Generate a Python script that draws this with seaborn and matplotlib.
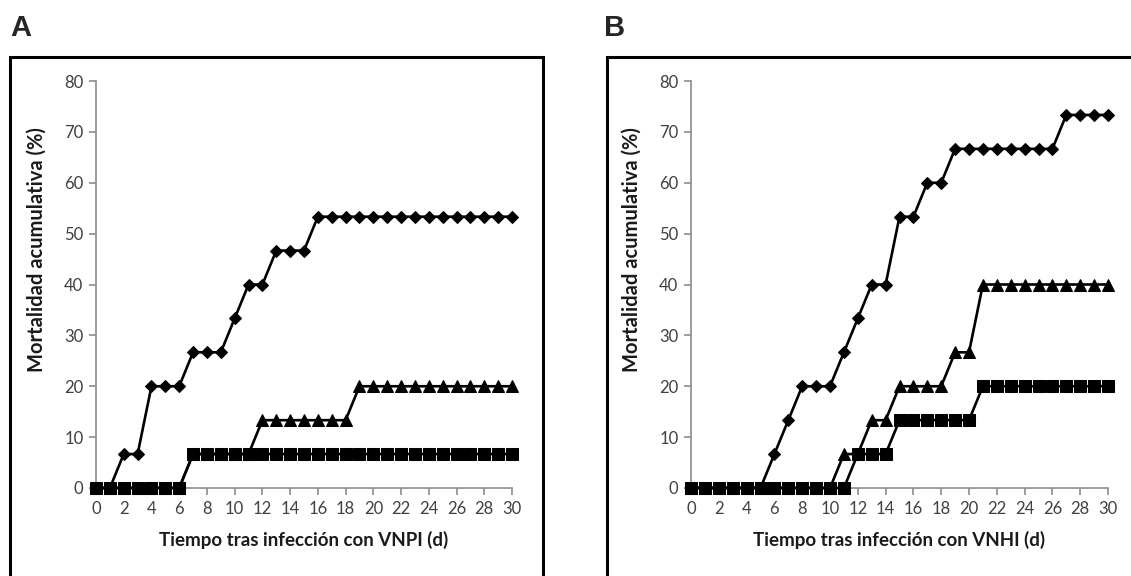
import matplotlib
matplotlib.use("Agg")
import matplotlib.pyplot as plt
from matplotlib.patches import Rectangle
import numpy as np
import pandas as pd
import seaborn as sns

# Days after infection
days = list(range(0, 31))

# Panel A: cumulative mortality (%) after VNPI infection
a_diamond = [0, 0, 6.67, 6.67, 20, 20, 20, 26.67, 26.67, 26.67, 33.33, 40, 40,
             46.67, 46.67, 46.67] + [53.33] * 15
a_triangle = [0] * 7 + [6.67] * 5 + [13.33] * 7 + [20] * 12
a_square = [0] * 7 + [6.67] * 24

# Panel B: cumulative mortality (%) after VNHI infection
b_diamond = [0] * 6 + [6.67, 13.33, 20, 20, 20, 26.67, 33.33, 40, 40, 53.33,
                       53.33, 60, 60] + [66.67] * 8 + [73.33] * 4
b_triangle = [0] * 11 + [6.67, 6.67, 13.33, 13.33, 20, 20, 20, 20, 26.67,
                         26.67] + [40] * 10
b_square = [0] * 12 + [6.67] * 3 + [13.33] * 6 + [20] * 10

x_titles = ["Tiempo tras infección con VNPI (d)",
            "Tiempo tras infección con VNHI (d)"]
y_title = "Mortalidad acumulativa (%)"
panel_letters = ["A", "B"]

sns.set_theme(style="white")
plt.rcParams["font.family"] = ["Lato", "DejaVu Sans"]

W, H = 1131, 576
fig = plt.figure(figsize=(W / 100, H / 100), dpi=100)
fig.patch.set_facecolor("white")

# axes placement in pixel terms (left, right, bottom-y, top-y)
axes_px = [(96, 512), (691, 1108)]
y0_px, y80_px = 488, 81

series_sets = [
    [(a_diamond, "D", 6.5), (a_triangle, "^", 8.0), (a_square, "s", 8.0)],
    [(b_diamond, "D", 6.5), (b_triangle, "^", 8.0), (b_square, "s", 8.0)],
]

axis_grey = "#8c8c8c"
tick_color = "#404040"

for i, ((xl, xr), series) in enumerate(zip(axes_px, series_sets)):
    ax = fig.add_axes([xl / W, (H - y0_px) / H, (xr - xl) / W, (y0_px - y80_px) / H])
    ax.set_facecolor("none")
    for vals, mk, ms in series:
        df = pd.DataFrame({"dia": days, "mort": vals})
        sns.lineplot(data=df, x="dia", y="mort", ax=ax, color="black",
                     linewidth=1.9, marker=mk, markersize=ms,
                     markeredgecolor="black", markerfacecolor="black",
                     clip_on=False, zorder=3)
    ax.set_xlim(0, 30)
    ax.set_ylim(0, 80)
    ax.set_xticks(np.arange(0, 31, 2))
    ax.set_yticks(np.arange(0, 81, 10))
    for s in ["top", "right"]:
        ax.spines[s].set_visible(False)
    for s in ["left", "bottom"]:
        ax.spines[s].set_color(axis_grey)
        ax.spines[s].set_linewidth(1.2)
    ax.tick_params(axis="both", which="major", direction="out", length=5,
                   width=1.2, color=axis_grey, labelsize=12,
                   labelcolor=tick_color, pad=4, bottom=True, left=True)
    ax.set_xlabel(x_titles[i], fontsize=13.5, fontweight="bold", color="#1a1a1a")
    ax.set_ylabel(y_title, fontsize=14.5, fontweight="bold", color="#1a1a1a")
    ax.yaxis.set_label_coords(-0.118, 0.585)
    ax.xaxis.set_label_coords(0.5, -0.105)

# panel frames
fig.patches.append(Rectangle((10 / W, -0.1), (543 - 10) / W, 0.1 + (H - 57) / H,
                             transform=fig.transFigure, fill=False,
                             edgecolor="black", linewidth=2.2, zorder=0))
fig.patches.append(Rectangle((607 / W, -0.1), 0.6, 0.1 + (H - 57) / H,
                             transform=fig.transFigure, fill=False,
                             edgecolor="black", linewidth=2.2, zorder=0))

# panel letters
fig.text(10 / W, 1 - 28 / H, panel_letters[0], fontsize=21, fontweight="bold",
         family=["Liberation Sans", "DejaVu Sans"], va="center", ha="left")
fig.text(604 / W, 1 - 28 / H, panel_letters[1], fontsize=21, fontweight="bold",
         family=["Liberation Sans", "DejaVu Sans"], va="center", ha="left")

fig.savefig("out.png", dpi=100, facecolor="white")
